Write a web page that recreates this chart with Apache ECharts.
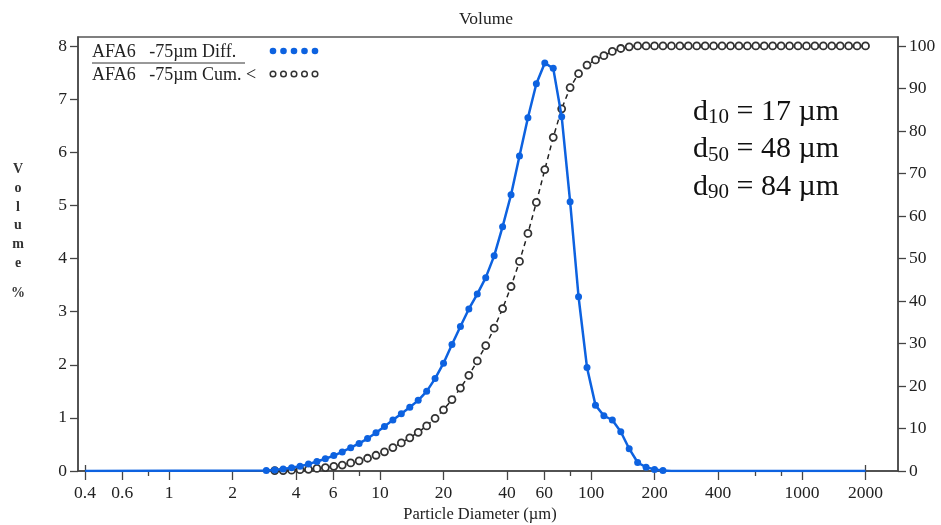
<!DOCTYPE html>
<html><head><meta charset="utf-8">
<script src="https://cdn.jsdelivr.net/npm/echarts@6/dist/echarts.min.js"></script>
<style>html,body{margin:0;padding:0;background:#fff}#c{width:941px;height:525px}</style>
</head><body><div id="c"></div>
<script>
// Particle diameters (µm)
const sizes = [0.4, 2.891, 3.170, 3.476, 3.811, 4.179, 4.582, 5.024, 5.508, 6.040, 6.623, 7.262, 7.962, 8.730, 9.573,
  10.50, 11.51, 12.62, 13.84, 15.17, 16.64, 18.24, 20.00, 21.93, 24.05, 26.37, 28.91, 31.70, 34.76, 38.11, 41.79,
  45.82, 50.24, 55.08, 60.40, 66.23, 72.62, 79.62, 87.30, 95.73, 105.0, 115.1, 126.2, 138.4, 151.7, 166.4, 182.4,
  200.0, 219.3, 240.5, 263.7, 289.1, 317.0, 347.6, 381.1, 417.9, 458.2, 502.4, 550.8, 604.0, 662.3, 726.2, 796.2,
  873.0, 957.3, 1050, 1151, 1262, 1384, 1517, 1664, 1824, 2000];
// Differential volume (%)
const diffVolume = [0, 0.01, 0.02, 0.04, 0.06, 0.09, 0.13, 0.18, 0.23, 0.29, 0.36, 0.44, 0.52, 0.61, 0.72,
  0.84, 0.96, 1.08, 1.20, 1.33, 1.50, 1.74, 2.03, 2.38, 2.72, 3.05, 3.33, 3.64, 4.05, 4.60, 5.20,
  5.93, 6.65, 7.29, 7.68, 7.58, 6.67, 5.07, 3.28, 1.95, 1.24, 1.04, 0.96, 0.74, 0.42, 0.16, 0.07,
  0.03, 0.01, 0, 0, 0, 0, 0, 0, 0, 0, 0, 0, 0, 0, 0, 0,
  0, 0, 0, 0, 0, 0, 0, 0, 0, 0];
// Cumulative undersize volume (%)
const cumVolume = [null, null, 0.1, 0.1, 0.2, 0.3, 0.4, 0.6, 0.8, 1.1, 1.4, 1.9, 2.4, 3.0, 3.7,
  4.5, 5.5, 6.6, 7.8, 9.1, 10.6, 12.4, 14.4, 16.8, 19.5, 22.5, 25.9, 29.5, 33.6, 38.2, 43.4,
  49.3, 55.9, 63.2, 70.9, 78.5, 85.2, 90.2, 93.5, 95.5, 96.7, 97.7, 98.7, 99.4, 99.8, 100, 100,
  100, 100, 100, 100, 100, 100, 100, 100, 100, 100, 100, 100, 100, 100, 100, 100,
  100, 100, 100, 100, 100, 100, 100, 100, 100, 100];
const xMajorTicks = [0.4, 0.6, 1, 2, 4, 6, 10, 20, 40, 60, 100, 200, 400, 1000, 2000];
const xMinorTicks = [0.8, 8, 80, 600, 800];
const xRangeTicks = [0.4, 2000];
const leftTicks = [0, 1, 2, 3, 4, 5, 6, 7, 8];
const rightTicks = [0, 10, 20, 30, 40, 50, 60, 70, 80, 90, 100];
const legendNames = ['AFA6   -75µm Diff.', 'AFA6   -75µm Cum. <'];
const stats = [['10', '17'], ['50', '48'], ['90', '84']];

const FONT = 'Liberation Serif';
const BLUE = '#0d62e0';
const lg = Math.log10;
const fmt = v => String(parseFloat(Math.pow(10, v).toPrecision(3)));

const diffData = sizes.map((d, i) => ({
  value: [lg(d), diffVolume[i]],
  symbol: diffVolume[i] > 0 ? 'circle' : 'none'
}));
const cumData = sizes.map((d, i) => [lg(d), cumVolume[i]]);

const chart = echarts.init(document.getElementById('c'), null, {renderer: 'canvas'});

const graphics = [
  {type: 'text', x: 486, y: 19, style: {text: 'Volume', font: '17.5px ' + FONT, fill: '#222', align: 'center', verticalAlign: 'middle'}},
  {type: 'text', x: 480, y: 515, style: {text: 'Particle Diameter (µm)', font: '16.5px ' + FONT, fill: '#222', align: 'center', verticalAlign: 'middle'}},
  {type: 'text', x: 18, y: 160, style: {text: 'V\no\nl\nu\nm\ne', font: 'bold 14px ' + FONT, fill: '#333', align: 'center', verticalAlign: 'top', lineHeight: 18.8}},
  {type: 'text', x: 18, y: 293, style: {text: '%', font: 'bold 14px ' + FONT, fill: '#333', align: 'center', verticalAlign: 'middle'}},
  {type: 'text', x: 92, y: 52, style: {text: legendNames[0], font: '18px ' + FONT, fill: '#222', verticalAlign: 'middle'}},
  {type: 'text', x: 92, y: 75, style: {text: legendNames[1], font: '18px ' + FONT, fill: '#222', verticalAlign: 'middle'}},
  {type: 'line', shape: {x1: 92, y1: 63, x2: 245, y2: 63}, style: {stroke: '#333', lineWidth: 1}}
];
for (let i = 0; i < 5; i++) {
  graphics.push({type: 'circle', shape: {cx: 273 + 10.5 * i, cy: 51, r: 3.3}, style: {fill: BLUE}});
  graphics.push({type: 'circle', shape: {cx: 273 + 10.5 * i, cy: 74, r: 2.8}, style: {fill: '#fff', stroke: '#333', lineWidth: 1.5}});
}
stats.forEach((s, i) => {
  graphics.push({
    type: 'text', x: 693, y: 112 + 37.5 * i,
    style: {
      text: '{a|d}{s|' + s[0] + '}{a| = ' + s[1] + ' µm}',
      verticalAlign: 'middle',
      rich: {
        a: {fontSize: 30, fontFamily: FONT, fill: '#111', color: '#111', lineHeight: 32},
        s: {fontSize: 21, fontFamily: FONT, fill: '#111', color: '#111', verticalAlign: 'bottom'}
      }
    }
  });
});

const xMin = lg(0.3704), xMax = lg(2851);
const option = {
  animation: false,
  backgroundColor: '#fff',
  grid: {left: 78, right: 43, top: 37, bottom: 54, show: true, borderColor: '#555', borderWidth: 1.5},
  xAxis: [{
    type: 'value', min: xMin, max: xMax,
    axisLine: {onZero: false, lineStyle: {color: '#444', width: 1.5}},
    splitLine: {show: false},
    axisTick: {customValues: xMajorTicks.map(lg), length: 9, lineStyle: {color: '#444', width: 1.3}},
    axisLabel: {customValues: xMajorTicks.map(lg), formatter: fmt, fontFamily: FONT, fontSize: 17.5, color: '#222', margin: 13}
  }, {
    type: 'value', min: xMin, max: xMax, position: 'bottom',
    axisLine: {show: false, onZero: false}, splitLine: {show: false},
    axisTick: {customValues: xMinorTicks.map(lg), length: 5, lineStyle: {color: '#444', width: 1.3}},
    axisLabel: {show: false}
  }, {
    type: 'value', min: xMin, max: xMax, position: 'bottom',
    axisLine: {show: false, onZero: false}, splitLine: {show: false},
    axisTick: {inside: true, customValues: xRangeTicks.map(lg), length: 6, lineStyle: {color: '#444', width: 1.3}},
    axisLabel: {show: false}
  }],
  yAxis: [{
    type: 'value', min: 0, max: 8.17, position: 'left',
    axisLine: {show: true, onZero: false, lineStyle: {color: '#444', width: 1.5}},
    splitLine: {show: false},
    axisTick: {show: true, customValues: leftTicks, length: 8, lineStyle: {color: '#444', width: 1.3}},
    axisLabel: {customValues: leftTicks, fontFamily: FONT, fontSize: 17.5, color: '#222', margin: 11}
  }, {
    type: 'value', min: 0, max: 102.1, position: 'right',
    axisLine: {show: true, onZero: false, lineStyle: {color: '#444', width: 1.5}},
    splitLine: {show: false},
    axisTick: {show: true, customValues: rightTicks, length: 8, lineStyle: {color: '#444', width: 1.3}},
    axisLabel: {customValues: rightTicks, fontFamily: FONT, fontSize: 17.5, color: '#222', margin: 11}
  }],
  series: [{
    name: legendNames[1], type: 'line', xAxisIndex: 0, yAxisIndex: 1, data: cumData, z: 2,
    symbol: 'circle', symbolSize: 7, showSymbol: true, connectNulls: false,
    lineStyle: {color: '#222', width: 1.5, type: [5, 4]},
    itemStyle: {color: '#fff', borderColor: '#333', borderWidth: 1.8}
  }, {
    name: legendNames[0], type: 'line', xAxisIndex: 0, yAxisIndex: 0, data: diffData, z: 3,
    symbolSize: 7, showSymbol: true,
    lineStyle: {color: BLUE, width: 2.5},
    itemStyle: {color: BLUE}
  }],
  graphic: graphics
};
chart.setOption(option);
</script></body></html>
